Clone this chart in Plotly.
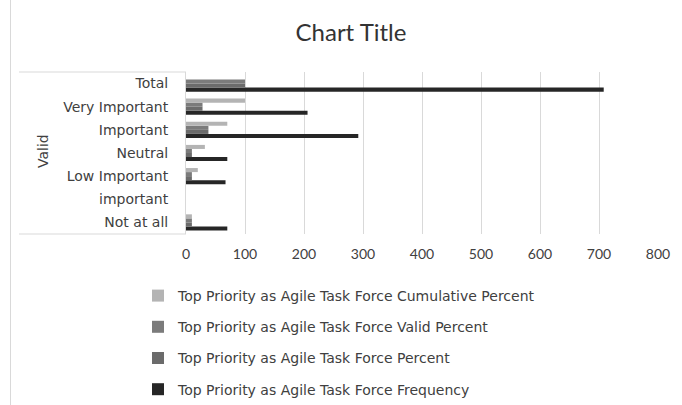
import plotly.graph_objects as go

# Response categories, bottom to top (the "important" slot is the wrapped half of "Not at all important")
categories = ["Not at all", "important", "Low Important", "Neutral", "Important", "Very Important", "Total"]

frequency = [70, None, 67, 70, 292, 206, 708]
percent = [10, None, 10, 10, 38, 28, 100]
valid_percent = [10, None, 10, 10, 38, 28, 100]
cumulative_percent = [10, None, 20, 32, 70, 100, None]

# name, values, colour, legend rank (legend lists the last series first)
series = [
    ("Top Priority as Agile Task Force Frequency", frequency, "#262626", 4),
    ("Top Priority as Agile Task Force Percent", percent, "#6b6b6b", 3),
    ("Top Priority as Agile Task Force Valid Percent", valid_percent, "#7b7b7b", 2),
    ("Top Priority as Agile Task Force Cumulative Percent", cumulative_percent, "#b4b4b4", 1),
]

x_ticks = [0, 100, 200, 300, 400, 500, 600, 700, 800]

fig = go.Figure()
for i, (name, vals, color, rank) in enumerate(series):
    fig.add_trace(go.Bar(
        y=categories, x=vals, name=name, orientation="h",
        marker=dict(color=color, line=dict(width=0)),
        legendgroup=f"g{i}", legendrank=rank,
    ))

W, H = 682, 405
ml, mr, mt, mb = 186, 24, 72, 171
pw, ph = W - ml - mr, H - mt - mb

def px_x(px):
    return (px - ml) / pw

def px_y(py):
    return (H - mb - py) / ph

line_col = "#d9d9d9"
shapes = [
    # frame line on the left edge of the chart area
    dict(type="line", xref="paper", yref="paper", x0=px_x(10.5), x1=px_x(10.5), y0=px_y(0), y1=px_y(405),
         line=dict(color=line_col, width=1)),
    # category label separators
    dict(type="line", xref="paper", yref="paper", x0=px_x(19), x1=0, y0=1, y1=1,
         line=dict(color=line_col, width=1)),
    dict(type="line", xref="paper", yref="paper", x0=px_x(19), x1=0, y0=0, y1=0,
         line=dict(color=line_col, width=1)),
]

fig.update_layout(
    width=W, height=H,
    margin=dict(l=ml, r=mr, t=mt, b=mb, autoexpand=False),
    paper_bgcolor="white", plot_bgcolor="white",
    barmode="group", bargap=0.3, bargroupgap=0,
    title=dict(text="Chart Title", x=351 / W, xanchor="center", y=1 - 33 / H, yanchor="middle",
               font=dict(family="Lato, sans-serif", size=24, color="#333333")),
    xaxis=dict(range=[0, 800], tickvals=x_ticks, showgrid=True, gridcolor=line_col, gridwidth=1,
               zeroline=False, showline=False, ticks="", ticklabelstandoff=10,
               tickfont=dict(family="Lato, sans-serif", size=14, color="#404040")),
    yaxis=dict(type="category", categoryorder="array", categoryarray=categories,
               showgrid=False, zeroline=False, showline=True, linecolor=line_col, linewidth=1,
               ticks="", ticklabelstandoff=14,
               tickfont=dict(family="DejaVu Sans, sans-serif", size=14, color="#404040")),
    legend=dict(traceorder="grouped", tracegroupgap=10, orientation="v",
                x=px_x(138), xanchor="left", y=px_y(280), yanchor="top",
                font=dict(family="DejaVu Sans, sans-serif", size=14, color="#404040"),
                bgcolor="rgba(0,0,0,0)", itemwidth=30),
    shapes=shapes,
    annotations=[dict(text="Valid", textangle=-90, xref="paper", yref="paper",
                      x=px_x(33), y=px_y(151), showarrow=False,
                      font=dict(family="DejaVu Sans, sans-serif", size=14, color="#404040"))],
)

fig.write_html("out.html")
